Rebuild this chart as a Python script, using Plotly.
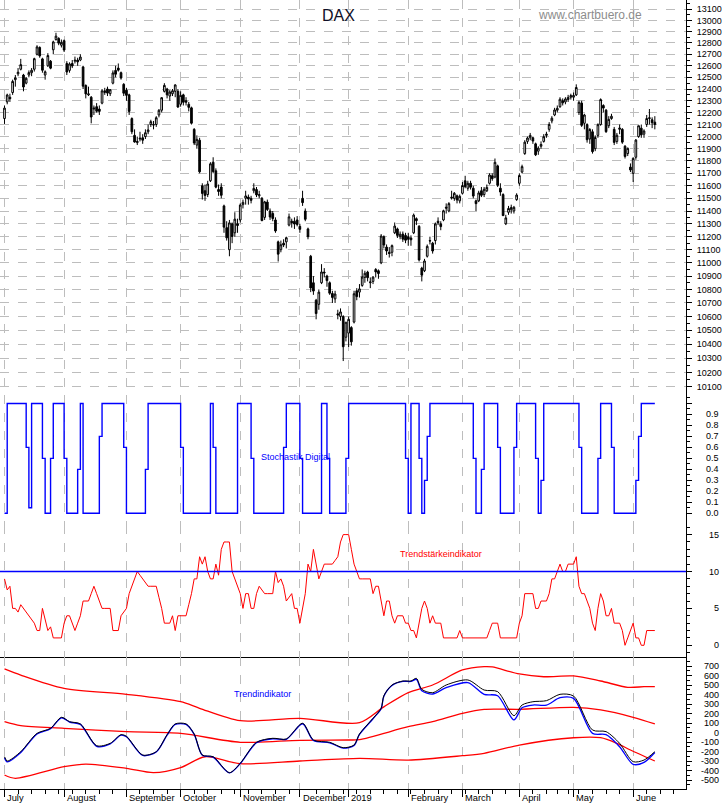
import plotly.graph_objects as go

# ---------------- data ----------------
month_pos = [0, 22, 45, 65, 87, 109, 127, 149, 169, 190, 210, 232]
month_labels = ["July", "August", "September", "October", "November", "December",
                "2019", "February", "March", "April", "May", "June"]
week_pos = [5, 10, 15, 20, 25, 30, 35, 40, 50, 55, 60, 70, 75, 80, 85, 90, 95, 100, 105,
            115, 120, 125, 130, 135, 140, 145, 150, 155, 160, 165, 170, 175, 180, 185,
            195, 200, 204, 208, 212, 217, 222, 227, 237, 242, 247]

dax_open = [
    12150, 12290, 12330, 12370, 12480, 12530, 12570, 12520, 12450, 12520,
    12540, 12570, 12700, 12760, 12660, 12520, 12600, 12640, 12740, 12830,
    12840, 12780, 12820, 12620, 12560, 12620, 12640, 12650, 12650, 12590,
    12430, 12350, 12330, 12230, 12250, 12230, 12280, 12370, 12400, 12360,
    12450, 12560, 12580, 12540, 12440, 12390, 12350, 12150, 12010, 11950,
    11980, 11990, 12000, 12040, 12100, 12100, 12100, 12180, 12220, 12380,
    12400, 12340, 12360, 12380, 12380, 12270, 12350, 12300, 12270, 12240,
    12060, 11930, 11970, 11600, 11560, 11530, 11640, 11790, 11720, 11570,
    11590, 11440, 11270, 11100, 11300, 11230, 11300, 11330, 11450, 11500,
    11510, 11500, 11560, 11570, 11520, 11500, 11350, 11470, 11400, 11380,
    11330, 11160, 11100, 11150, 11160, 11290, 11320, 11320, 11330, 11280,
    11500, 11400, 11260, 11050, 10850, 10720, 10690, 10850, 10930, 10900,
    10850, 10770, 10730, 10620, 10600, 10600, 10450, 10480, 10520, 10560,
    10790, 10780, 10830, 10890, 10930, 10850, 10860, 10950, 10940, 11000,
    11200, 11120, 11080, 11080, 11230, 11260, 11200, 11220, 11210, 11200,
    11190, 11230, 11340, 11280, 10960, 10940, 11050, 11170, 11150, 11170,
    11320, 11300, 11330, 11430, 11400, 11510, 11500, 11520, 11480, 11540,
    11640, 11580, 11620, 11580, 11480, 11480, 11560, 11530, 11560, 11620,
    11680, 11670, 11760, 11580, 11530, 11300, 11390, 11410, 11400, 11490,
    11620, 11710, 11860, 11960, 11990, 11990, 11940, 11880, 11920, 11960,
    12010, 12060, 12130, 12180, 12220, 12250, 12300, 12290, 12310, 12330,
    12330, 12350, 12200, 12280, 12110, 12100, 11980, 12040, 11900, 12010,
    12100, 12260, 12220, 12090, 12150, 12060, 11960, 12060, 12060, 11920,
    11860, 11750, 11700, 11830, 12000, 12070, 12020, 12100, 12150, 12140,
    12120]

dax_high = [
    12260, 12360, 12360, 12480, 12520, 12580, 12660, 12530, 12500, 12560,
    12580, 12670, 12780, 12770, 12670, 12560, 12710, 12650, 12820, 12890,
    12850, 12830, 12830, 12640, 12630, 12650, 12680, 12670, 12700, 12600,
    12440, 12420, 12340, 12260, 12280, 12260, 12400, 12410, 12420, 12400,
    12560, 12600, 12620, 12550, 12450, 12410, 12360, 12160, 12060, 12000,
    12040, 12020, 12060, 12100, 12140, 12130, 12170, 12230, 12330, 12450,
    12410, 12390, 12400, 12440, 12400, 12380, 12360, 12330, 12290, 12250,
    12070, 12010, 11990, 11620, 11610, 11640, 11790, 11830, 11740, 11610,
    11620, 11450, 11320, 11330, 11310, 11390, 11340, 11460, 11490, 11560,
    11530, 11520, 11620, 11590, 11560, 11510, 11480, 11490, 11420, 11400,
    11350, 11170, 11170, 11180, 11200, 11380, 11340, 11350, 11360, 11300,
    11560, 11420, 11270, 11060, 10900, 10730, 10800, 10990, 10960, 10910,
    10860, 10790, 10790, 10650, 10660, 10610, 10560, 10600, 10530, 10790,
    10810, 10840, 10950, 10940, 10940, 10890, 10900, 10960, 10950, 11220,
    11210, 11140, 11120, 11140, 11310, 11270, 11240, 11240, 11230, 11230,
    11210, 11380, 11350, 11290, 10970, 11030, 11140, 11200, 11160, 11310,
    11350, 11320, 11410, 11460, 11470, 11560, 11550, 11530, 11530, 11630,
    11680, 11640, 11640, 11600, 11490, 11560, 11590, 11590, 11610, 11700,
    11700, 11820, 11770, 11620, 11540, 11370, 11440, 11450, 11440, 11540,
    11700, 11770, 11970, 12000, 12030, 12000, 11950, 11920, 11960, 12020,
    12040, 12120, 12170, 12240, 12260, 12330, 12320, 12330, 12350, 12360,
    12370, 12440, 12300, 12300, 12190, 12110, 12070, 12060, 12010, 12110,
    12320, 12270, 12230, 12170, 12190, 12080, 12030, 12100, 12070, 11930,
    11910, 11780, 11830, 11980, 12090, 12100, 12060, 12180, 12230, 12160,
    12170]

dax_low = [
    12105, 12270, 12290, 12350, 12420, 12510, 12560, 12380, 12440, 12500,
    12510, 12550, 12690, 12670, 12540, 12480, 12590, 12570, 12700, 12820,
    12780, 12760, 12720, 12520, 12540, 12580, 12620, 12600, 12640, 12400,
    12320, 12340, 12110, 12180, 12200, 12180, 12270, 12350, 12340, 12340,
    12440, 12500, 12550, 12480, 12340, 12300, 12180, 12020, 11950, 11930,
    11960, 11940, 11980, 12020, 12080, 12060, 12080, 12160, 12200, 12370,
    12320, 12300, 12340, 12330, 12240, 12250, 12260, 12260, 12210, 12100,
    11930, 11900, 11700, 11490, 11480, 11510, 11630, 11700, 11580, 11520,
    11500, 11230, 11170, 11050, 11150, 11200, 11230, 11310, 11420, 11450,
    11450, 11460, 11540, 11510, 11500, 11320, 11330, 11400, 11330, 11320,
    11230, 11010, 11080, 11120, 11110, 11280, 11270, 11260, 11280, 11230,
    11440, 11320, 11180, 10780, 10760, 10580, 10650, 10840, 10890, 10820,
    10760, 10700, 10700, 10580, 10570, 10280, 10420, 10380, 10390, 10550,
    10720, 10740, 10820, 10850, 10860, 10810, 10840, 10890, 10880, 10990,
    11110, 11060, 11040, 11050, 11220, 11190, 11180, 11160, 11150, 11130,
    11130, 11220, 11290, 11010, 10860, 10930, 11040, 11140, 11070, 11140,
    11290, 11250, 11320, 11380, 11390, 11490, 11480, 11460, 11460, 11530,
    11580, 11560, 11570, 11500, 11400, 11470, 11510, 11510, 11550, 11610,
    11640, 11660, 11590, 11520, 11360, 11290, 11370, 11380, 11380, 11480,
    11600, 11700, 11850, 11940, 11970, 11940, 11840, 11850, 11900, 11950,
    11990, 12040, 12110, 12170, 12200, 12240, 12260, 12270, 12290, 12310,
    12300, 12340, 12180, 12080, 12060, 11950, 11940, 11860, 11880, 11990,
    12090, 12200, 12030, 12070, 12140, 11930, 11940, 12020, 11940, 11820,
    11840, 11710, 11630, 11810, 11990, 11990, 11990, 12080, 12100, 12070,
    12060]

dax_close = [
    12238, 12349, 12317, 12465, 12497, 12544, 12610, 12417, 12492, 12541,
    12561, 12662, 12765, 12686, 12561, 12548, 12689, 12579, 12809, 12860,
    12798, 12805, 12737, 12546, 12616, 12598, 12648, 12634, 12676, 12424,
    12358, 12358, 12163, 12237, 12211, 12210, 12384, 12385, 12365, 12394,
    12538, 12527, 12562, 12494, 12364, 12346, 12210, 12040, 11955, 11960,
    11986, 11970, 12032, 12055, 12124, 12096, 12157, 12219, 12326, 12431,
    12350, 12374, 12385, 12435, 12247, 12346, 12287, 12288, 12244, 12111,
    11947, 11977, 11712, 11539, 11523, 11614, 11777, 11715, 11589, 11554,
    11524, 11274, 11191, 11307, 11201, 11336, 11287, 11447, 11468, 11519,
    11495, 11484, 11579, 11527, 11529, 11325, 11472, 11412, 11353, 11341,
    11244, 11066, 11138, 11136, 11192, 11354, 11309, 11298, 11294, 11257,
    11466, 11335, 11200, 10811, 10788, 10622, 10780, 10931, 10924, 10866,
    10772, 10741, 10766, 10612, 10634, 10382, 10559, 10580, 10417, 10768,
    10747, 10804, 10893, 10921, 10888, 10856, 10892, 10931, 10919, 11205,
    11136, 11090, 11071, 11131, 11282, 11210, 11219, 11181, 11173, 11180,
    11176, 11368, 11324, 11022, 10907, 11014, 11126, 11167, 11090, 11299,
    11309, 11278, 11402, 11423, 11458, 11505, 11540, 11487, 11516, 11602,
    11593, 11620, 11588, 11518, 11458, 11543, 11524, 11572, 11587, 11686,
    11657, 11789, 11603, 11550, 11364, 11346, 11420, 11428, 11429, 11526,
    11682, 11754, 11954, 11988, 12010, 11963, 11850, 11905, 11935, 11999,
    12020, 12101, 12153, 12222, 12236, 12313, 12282, 12315, 12328, 12344,
    12345, 12413, 12286, 12093, 12180, 11974, 12059, 11876, 11992, 12099,
    12310, 12238, 12041, 12143, 12169, 11952, 12011, 12071, 11954, 11837,
    11903, 11727, 11821, 11971, 12090, 12014, 12046, 12150, 12156, 12115,
    12100]

stoch_digital = [
    0, 1, 1, 1, 1, 1, 1, 1, 0.6, 0.05,
    1, 1, 1, 1, 0.5, 0, 0, 0.5, 1, 1,
    1, 1, 0.5, 0, 0, 0, 0, 0.4, 1, 0,
    0, 0, 0, 0, 0, 0.7, 1, 1, 1, 1,
    1, 1, 1, 1, 0.6, 0, 0, 0, 0, 0,
    0, 0, 0.4, 1, 1, 1, 1, 1, 1, 1,
    1, 1, 1, 1, 1, 0.6, 0, 0, 0, 0,
    0, 0, 0, 0, 0, 0, 1, 0.6, 0, 0,
    0, 0, 0, 0, 0, 0, 1, 1, 1, 1,
    1, 0.5, 0, 0, 0, 0, 0, 0, 0, 0,
    0, 0, 0, 0.6, 1, 1, 1, 1, 1, 0.5,
    0, 0, 0, 0, 0, 0, 0, 1, 1, 0.5,
    0, 0, 0, 0, 0, 0, 0.5, 1, 1, 1,
    1, 1, 1, 1, 1, 1, 1, 1, 1, 1,
    1, 1, 1, 1, 1, 1, 1, 1, 0.5, 0,
    1, 1, 1, 0.5, 0, 0.3, 0.7, 1, 1, 1,
    1, 1, 1, 1, 1, 1, 1, 1, 1, 1,
    1, 1, 1, 0.5, 0, 0, 0.4, 1, 1, 1,
    1, 1, 0.6, 0, 0, 0, 0, 0, 0.6, 1,
    1, 1, 1, 1, 1, 1, 0.5, 0, 0.3, 1,
    1, 1, 1, 1, 1, 1, 1, 1, 1, 1,
    1, 1, 0.6, 0, 0, 0, 0, 0, 0, 0.5,
    1, 1, 1, 1, 0.6, 0, 0, 0, 0, 0,
    0, 0, 0, 0.3, 0.7, 1, 1, 1, 1, 1,
    1]

trend_strength = [
    9, 7.5, 8, 5, 5, 4.5, 5.5, 5, 4.5, 4,
    3.5, 3, 2, 2, 5, 3.5, 2, 2.5, 1, 1,
    1, 1, 3, 4, 4, 3, 2, 3, 4, 6,
    6, 6, 7, 8, 7, 6, 5, 5, 5, 5,
    2, 2, 2, 4, 4.5, 5, 7, 8, 9, 10,
    9.5, 9, 8.5, 8, 8, 8, 8, 6.5, 5, 3,
    3, 3, 4, 2, 4, 4, 4, 4, 5.5, 7,
    9, 9, 12, 11, 12, 10, 9, 9, 11, 9.5,
    13, 14, 14, 14, 10, 9, 8, 7, 5, 7,
    7, 5, 5, 7, 8, 7.5, 7, 7, 7, 7,
    10, 8.5, 9, 8, 6, 6.5, 7, 5, 5, 3,
    5, 7, 11, 10, 13, 11, 9, 10, 11, 11,
    11, 11, 11.5, 12, 14, 15, 15, 15, 13, 11,
    10, 9, 9, 9, 9, 9, 7, 8, 8, 6,
    4, 6, 6, 4, 3, 4, 4, 4, 3, 3,
    2, 2, 1, 3, 5, 6, 5, 3, 4, 3,
    3, 3, 1, 1, 1, 1, 1, 1, 2, 1,
    1, 1, 1, 1, 1, 1, 1, 1, 1, 2,
    3, 3, 3, 1, 1, 1, 1, 1, 1, 1,
    3, 4, 7, 7, 7, 7, 5, 5, 6, 6,
    6, 7, 9, 9, 10, 11, 10, 10, 11, 11,
    11, 12, 8, 7, 7, 6, 5, 3, 2, 5,
    7, 6, 4, 4, 5, 3, 3, 3, 2, 0,
    1, 2, 3, 1, 1, 0, 0, 2, 2, 2,
    2]

trend_x = [0, 1, 6, 12, 17, 21, 24, 28, 34, 39, 43, 45, 51, 56, 60, 63, 67, 70, 73, 77,
           83, 87, 93, 99, 104, 110, 114, 120, 125, 129, 131, 136, 139, 140, 143, 147,
           150, 152, 154, 158, 163, 171, 177, 182, 188, 191, 195, 200, 205, 210, 217,
           222, 227, 232, 236, 240]
trend_black = [-255, -300, -202, -9, 44, 160, 114, 90, -139, -114, -23, -40, -237, -202,
               -23, 90, 90, -16, -237, -255, -423, -324, -103, -61, -68, 97, -79, -103,
               -160, -132, -16, 149, 255, 387, 500, 542, 542, 570, 454, 419, 500, 553,
               447, 430, 177, 289, 324, 335, 402, 384, 26, 9, -114, -307, -290, -202]
trend_blue = [-265, -310, -210, -15, 40, 155, 110, 85, -145, -120, -28, -45, -242, -205,
              -28, 85, 85, -20, -240, -260, -425, -328, -108, -66, -72, 92, -84, -108,
              -165, -137, -20, 145, 250, 382, 495, 537, 537, 560, 440, 405, 472, 525,
              402, 387, 132, 260, 289, 289, 366, 359, -9, -23, -150, -335, -314, -210]

band_upper_x = [0, 6, 22, 45, 65, 72, 87, 109, 131, 140, 149, 158, 169, 177, 180, 190,
                199, 210, 220, 230, 236, 240]
band_upper = [670, 605, 465, 402, 324, 255, 124, 149, 103, 270, 420, 500, 658, 693, 690,
              616, 587, 595, 542, 476, 482, 482]
band_mid_x = [0, 6, 22, 45, 65, 87, 109, 127, 131, 149, 158, 169, 177, 190, 210, 220,
              232, 240]
band_mid = [114, 72, 44, 9, -9, -103, -82, -79, -75, 61, 114, 202, 244, 244, 265, 237,
            160, 90]
band_low_x = [0, 4, 22, 30, 45, 55, 65, 74, 87, 109, 131, 149, 169, 177, 190, 210, 220,
              226, 231, 240]
band_low = [-447, -482, -360, -332, -377, -423, -370, -255, -328, -300, -272, -290, -244,
            -219, -132, -55, -55, -114, -184, -300]

dax_ticks = list(range(10100, 13101, 100))
stoch_ticks = [0.0, 0.1, 0.2, 0.3, 0.4, 0.5, 0.6, 0.7, 0.8, 0.9]
strength_ticks = [0, 5, 10, 15]
trend_ticks = list(range(-500, 701, 100))

# ---------------- figure ----------------
days = list(range(len(dax_close)))
GRID = "#bdbdbd"
FONT = "Liberation Sans, Arial, sans-serif"
NARROW = "Liberation Sans Narrow, Arial Narrow, Liberation Sans, Arial, sans-serif"

fig = go.Figure()
fig.add_trace(go.Candlestick(
    x=days, open=dax_open, high=dax_high, low=dax_low, close=dax_close,
    xaxis="x", yaxis="y", whiskerwidth=0,
    increasing=dict(line=dict(color="black", width=1), fillcolor="white"),
    decreasing=dict(line=dict(color="black", width=1), fillcolor="black"),
    showlegend=False, hoverinfo="skip"))
fig.add_trace(go.Scatter(x=days, y=stoch_digital, xaxis="x2", yaxis="y2", mode="lines",
                         line=dict(color="#0000ff", width=1.4, shape="hv"), showlegend=False))
fig.add_trace(go.Scatter(x=days, y=trend_strength, xaxis="x3", yaxis="y3", mode="lines",
                         line=dict(color="#ff0000", width=1), showlegend=False))
for bx, by in ((band_upper_x, band_upper), (band_mid_x, band_mid), (band_low_x, band_low)):
    fig.add_trace(go.Scatter(x=bx, y=by, xaxis="x4", yaxis="y4", mode="lines",
                             line=dict(color="#ff0000", width=1.3, shape="spline", smoothing=0.8),
                             showlegend=False))
fig.add_trace(go.Scatter(x=trend_x, y=trend_blue, xaxis="x4", yaxis="y4", mode="lines",
                         line=dict(color="#0000ff", width=1.3, shape="spline", smoothing=0.8),
                         showlegend=False))
fig.add_trace(go.Scatter(x=trend_x, y=trend_black, xaxis="x4", yaxis="y4", mode="lines",
                         line=dict(color="#000000", width=1, shape="spline", smoothing=0.8),
                         showlegend=False))

XR = [-1.66, 251.5]
xcommon = dict(range=XR, showgrid=True, gridcolor=GRID, griddash="dash", gridwidth=1,
               tickmode="array", tickvals=month_pos, showticklabels=False, zeroline=False,
               ticks="", fixedrange=True)

D1 = [0.4994, 1.0]
D2 = [0.3346, 0.4994]
D3 = [0.1673, 0.3346]
D4 = [0.0, 0.1673]

ycommon = dict(side="right", showline=True, linecolor="black", linewidth=1, ticks="outside",
               ticklen=5, tickcolor="black", zeroline=False, showgrid=False,
               tickfont=dict(family=FONT, size=9, color="black"))

fig.update_layout(
    width=723, height=803,
    margin=dict(l=0, r=37, t=0, b=14),
    paper_bgcolor="white", plot_bgcolor="white",
    showlegend=False, boxgap=0.12,
    xaxis=dict(xcommon, anchor="y", domain=[0, 1], rangeslider=dict(visible=False)),
    xaxis2=dict(xcommon, anchor="y2", matches="x"),
    xaxis3=dict(xcommon, anchor="y3", matches="x", showline=True, linecolor="black",
                linewidth=1),
    xaxis4=dict(xcommon, anchor="y4", matches="x", showline=True, linecolor="black",
                linewidth=1, ticks="outside", ticklen=7, tickcolor="black",
                minor=dict(tickmode="array", tickvals=week_pos, ticks="outside", ticklen=4,
                           tickcolor="black", showgrid=False)),
    yaxis=dict(ycommon, domain=D1, anchor="x", type="log", range=[4.00184, 4.12006],
               tickmode="array", tickvals=dax_ticks, ticktext=[str(v) for v in dax_ticks],
               showgrid=True, gridcolor=GRID, griddash="dash", gridwidth=1,
               ticklabelstandoff=3,
               minor=dict(tickmode="array", tickvals=[v + 50 for v in dax_ticks],
                          ticks="outside", ticklen=3, tickcolor="black", showgrid=False)),
    yaxis2=dict(ycommon, domain=D2, anchor="x2", range=[-0.1066, 1.0774],
                tickmode="array", tickvals=stoch_ticks + [1.0], showticklabels=False,
                minor=dict(tickmode="array", tickvals=[v + 0.05 for v in stoch_ticks] + [1.05],
                           ticks="outside", ticklen=3, tickcolor="black", showgrid=False)),
    yaxis3=dict(ycommon, domain=D3, anchor="x3", range=[-1.585, 16.30],
                tickmode="array", tickvals=strength_ticks, showticklabels=False,
                minor=dict(tickmode="array", tickvals=list(range(-1, 17)), ticks="outside",
                           ticklen=3, tickcolor="black", showgrid=False)),
    yaxis4=dict(ycommon, domain=D4, anchor="x4", range=[-594.7, 794.7],
                tickmode="array", tickvals=trend_ticks, showticklabels=False,
                minor=dict(tickmode="array", tickvals=[v + 50 for v in trend_ticks] + [-550],
                           ticks="outside", ticklen=3, tickcolor="black", showgrid=False)),
)

# reference level line in the trend-strength panel
fig.add_shape(type="line", xref="x3 domain", x0=0, x1=1, yref="y3", y0=10, y1=10,
              line=dict(color="#0000ff", width=1.5))

ann = []
LAB_X = 721 / 686
for v in stoch_ticks:
    ann.append(dict(x=LAB_X, xref="paper", y=v, yref="y2", text=f"{v:.1f}", xanchor="right",
                    yanchor="middle", showarrow=False, font=dict(family=FONT, size=9, color="black")))
for v in strength_ticks:
    ann.append(dict(x=LAB_X, xref="paper", y=v, yref="y3", text=str(v), xanchor="right",
                    yanchor="middle", showarrow=False, font=dict(family=FONT, size=9, color="black")))
for v in trend_ticks:
    ann.append(dict(x=LAB_X, xref="paper", y=v, yref="y4", text=str(v), xanchor="right",
                    yanchor="middle", showarrow=False, font=dict(family=FONT, size=9, color="black")))
for p, lab in zip(month_pos, month_labels):
    ann.append(dict(x=p + 0.3, xref="x4", y=0, yref="paper", yshift=-2, text=lab,
                    xanchor="left", yanchor="top", showarrow=False,
                    font=dict(family=FONT, size=9.3, color="black")))

ann.append(dict(x=338 / 686, xref="paper", y=(789 - 15) / 789, yref="paper", text="DAX",
                showarrow=False, xanchor="center", yanchor="middle",
                font=dict(family=FONT, size=16, color="#101028")))
ann.append(dict(x=590 / 686, xref="paper", y=(789 - 15) / 789, yref="paper",
                text="www.chartbuero.de", showarrow=False, xanchor="center", yanchor="middle",
                font=dict(family=FONT, size=12, color="#8c8c8c")))
ann.append(dict(x=295 / 686, xref="paper", y=(789 - 457) / 789, yref="paper",
                text="Stochastik Digital", showarrow=False, xanchor="center", yanchor="middle",
                font=dict(family=NARROW, size=9, color="#0000ff")))
ann.append(dict(x=441 / 686, xref="paper", y=(789 - 554) / 789, yref="paper",
                text="Trendstärkeindikator", showarrow=False, xanchor="center",
                yanchor="middle", font=dict(family=NARROW, size=9, color="#ff0000")))
ann.append(dict(x=262 / 686, xref="paper", y=(789 - 694) / 789, yref="paper",
                text="Trendindikator", showarrow=False, xanchor="center", yanchor="middle",
                font=dict(family=NARROW, size=9, color="#0000ff")))
fig.update_layout(annotations=ann)

fig.write_html("out.html",
               config={"displayModeBar": False, "staticPlot": True},
               post_script="document.body.style.margin='0px';"
                           "document.body.style.overflow='hidden';")
